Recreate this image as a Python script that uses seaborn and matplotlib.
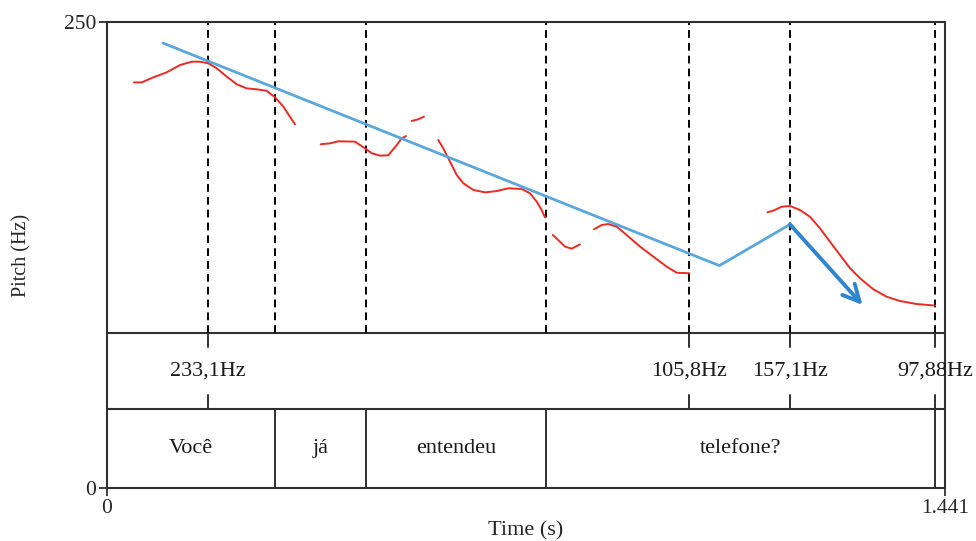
import numpy as np
import pandas as pd
import matplotlib
matplotlib.use("Agg")
import matplotlib.pyplot as plt
import seaborn as sns

# Pitch track (time in s, F0 in Hz), one list per voiced stretch
seg_t = [
    [0.0464, 0.0597, 0.0796, 0.1027, 0.1255, 0.1457, 0.1599, 0.1742, 0.1886,
     0.2058, 0.2230, 0.2402, 0.2574, 0.2746, 0.2889, 0.3032, 0.3233],
    [0.3675, 0.3835, 0.3978, 0.4265, 0.4437, 0.4552, 0.4695, 0.4837, 0.4982,
     0.5068, 0.5142],
    [0.5240, 0.5353, 0.5451],
    [0.5697, 0.5783, 0.5898, 0.6014, 0.6127, 0.6299, 0.6500, 0.6702, 0.6901,
     0.7132, 0.7274, 0.7390, 0.7475, 0.7532],
    [0.7665, 0.7761, 0.7876, 0.7991, 0.8134],
    [0.8375, 0.8507, 0.8621, 0.8765, 0.8937, 0.9166, 0.9395, 0.9625, 0.9797,
     1.0014],
    [1.1355, 1.1458, 1.1603, 1.1745, 1.1917, 1.2089, 1.2261, 1.2433, 1.2605,
     1.2777, 1.2949, 1.3178, 1.3408, 1.3637, 1.3924, 1.4239],
]
seg_f = [
    [217.6, 217.6, 220.3, 223.0, 226.9, 228.7, 228.7, 227.8, 225.2,
     220.7, 216.6, 214.4, 213.9, 213.1, 209.6, 204.6, 195.1],
    [184.4, 184.9, 186.0, 185.8, 182.2, 179.6, 178.3, 178.5, 184.0,
     187.6, 188.8],
    [196.9, 197.8, 199.2],
    [186.7, 182.2, 175.1, 167.9, 163.5, 159.9, 158.6, 159.3, 160.8,
     160.4, 158.1, 153.6, 149.1, 145.2],
    [135.7, 133.0, 129.5, 128.4, 130.7],
    [138.8, 141.1, 141.6, 140.2, 135.7, 129.5, 124.1, 118.7, 115.5,
     115.2],
    [147.9, 148.8, 150.9, 151.3, 149.1, 145.5, 139.3, 132.1, 125.0,
     117.9, 112.5, 106.6, 102.6, 100.3, 98.7, 97.88],
]

# Stylised intonation contour (declination line, rise, final fall arrow)
trend_t = [0.0963, 1.0530, 1.1745]
trend_f = [238.7, 119.3, 141.4]
fall_t = [1.1745, 1.2992]
fall_f = [141.4, 98.2]

# TextGrid: point tier and word tier
point_times = [0.1737, 1.0009, 1.1745, 1.4239]
point_labels = ["233,1Hz", "105,8Hz", "157,1Hz", "97,88Hz"]
word_bounds = [0.0, 0.2889, 0.4454, 0.7549, 1.4239, 1.441]
word_labels = ["Você", "já", "entendeu", "telefone?", ""]
dashed_times = [0.1737, 0.2889, 0.4454, 0.7549, 1.0009, 1.1745, 1.4239]

t_max = 1.441
f_max = 250

sns.set_style("white")
plt.rcParams["font.family"] = ["Liberation Serif", "DejaVu Serif"]

track = pd.DataFrame(
    [(i, t, f) for i, (ts, fs) in enumerate(zip(seg_t, seg_f)) for t, f in zip(ts, fs)],
    columns=["seg", "time", "f0"],
)
trend = pd.DataFrame({"time": trend_t, "f0": trend_f})

fig = plt.figure(figsize=(9.76, 5.41), dpi=100)
ax = fig.add_axes([107 / 976, 53 / 541, 838 / 976, 466 / 541])

frame_col = "#303030"
pitch_bottom = (488 - 333) / 466   # lower edge of the pitch panel
point_bottom = (488 - 409) / 466   # lower edge of the point tier
tick_len = 14 / 466

# Panel separators
for yf in (pitch_bottom, point_bottom):
    ax.plot([0, 1], [yf, yf], transform=ax.transAxes, color=frame_col, lw=1.5,
            clip_on=False)

# Dotted time marks through the pitch panel
for t in dashed_times:
    ax.axvline(t, ymin=pitch_bottom, ymax=1, color="black", lw=1.4,
               ls=(0, (4, 2.6)))

# Point tier marks and labels
for t, lab in zip(point_times, point_labels):
    ax.axvline(t, ymin=pitch_bottom - tick_len, ymax=pitch_bottom,
               color=frame_col, lw=1.4)
    ax.axvline(t, ymin=point_bottom, ymax=point_bottom + tick_len,
               color=frame_col, lw=1.4)
    ax.text(t, (pitch_bottom + point_bottom) / 2, lab,
            transform=ax.get_xaxis_transform(), ha="center", va="center",
            fontsize=16, color="#1a1a1a", clip_on=False)

# Word tier boundaries and labels
for t in word_bounds[1:-1]:
    ax.axvline(t, ymin=0, ymax=point_bottom, color=frame_col, lw=1.4)
for a, b, lab in zip(word_bounds[:-1], word_bounds[1:], word_labels):
    if lab:
        ax.text((a + b) / 2, point_bottom / 2, lab,
                transform=ax.get_xaxis_transform(), ha="center", va="center",
                fontsize=16, color="#1a1a1a")

# F0 track
sns.lineplot(data=track, x="time", y="f0", units="seg", estimator=None,
             color="#ec2a22", lw=1.4, ax=ax, legend=False, sort=False)

# Intonation contour
sns.lineplot(data=trend, x="time", y="f0", estimator=None, sort=False,
             color="#5aa7dd", lw=2.0, ax=ax)
ax.annotate("", xy=(fall_t[1], fall_f[1]), xytext=(fall_t[0], fall_f[0]),
            arrowprops=dict(arrowstyle="->", color="#2f86cf", lw=2.8,
                            mutation_scale=30, shrinkA=0, shrinkB=0))

ax.set_xlim(0, t_max)
ax.set_ylim(0, f_max)
ax.set_xticks([0, t_max])
ax.set_xticklabels(["0", "1.441"])
ax.set_yticks([0, f_max])
ax.set_yticklabels(["0", "250"])
ax.tick_params(axis="both", direction="out", length=6, width=1.3,
               color=frame_col, labelsize=15.5, pad=2, left=True, bottom=True)
for s in ax.spines.values():
    s.set_color(frame_col)
    s.set_linewidth(1.5)
ax.set_xlabel("Time (s)", fontsize=16, labelpad=2)
ax.set_ylabel("Pitch (Hz)", fontsize=14.5)
ax.yaxis.set_label_coords(-76 / 838, 0.5)

fig.savefig("out.png", dpi=100)
